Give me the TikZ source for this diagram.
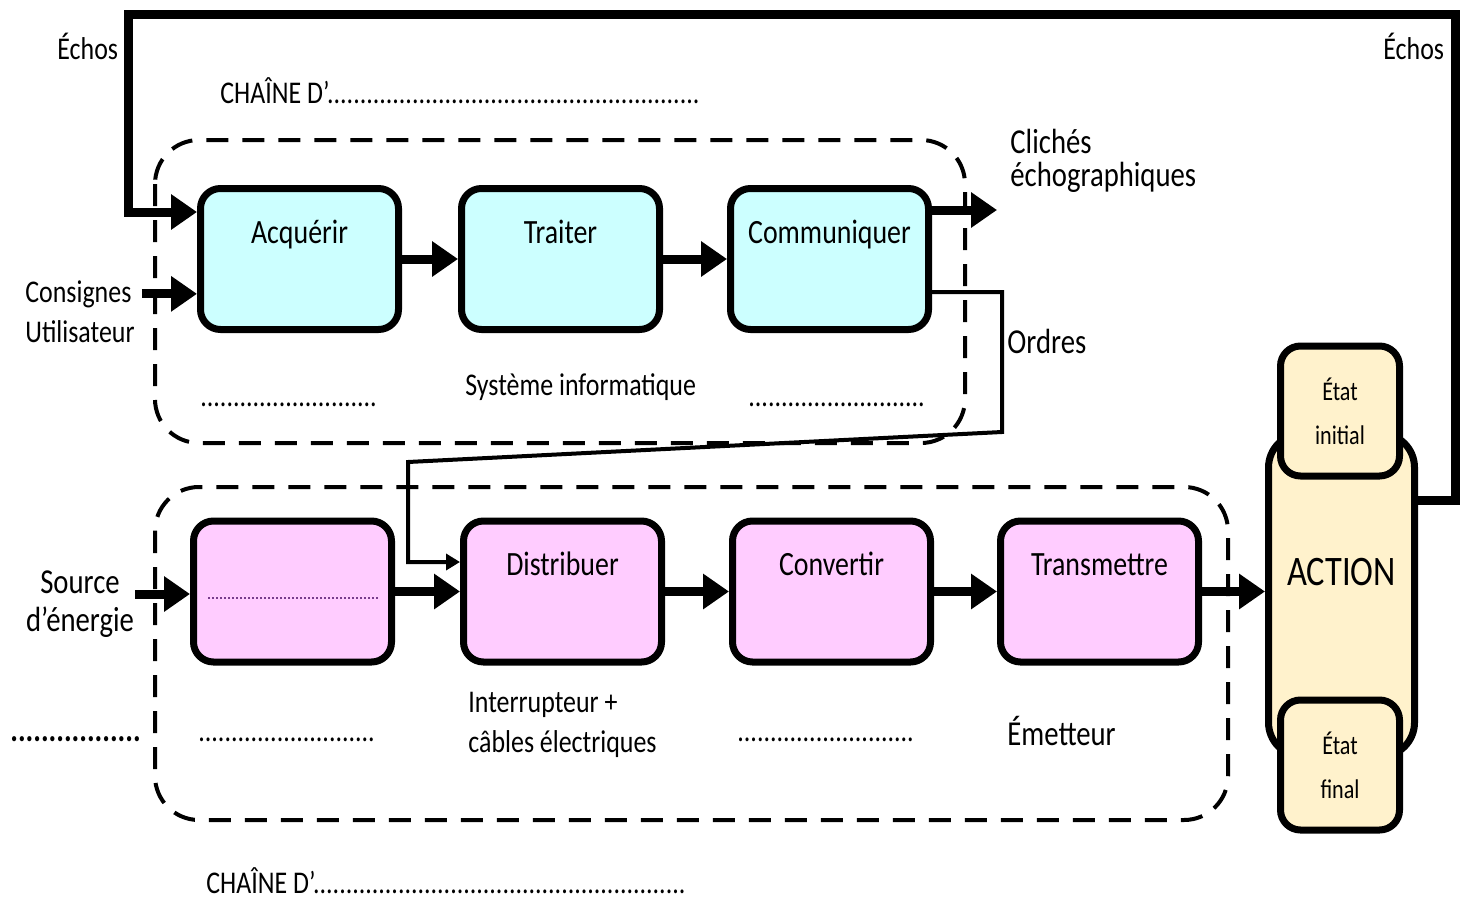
\documentclass[tikz,border=0pt]{standalone}
\usepackage{fontspec}
\setmainfont{Carlito}[FakeStretch=0.82]
\usepackage{tikz}
\usetikzlibrary{positioning,arrows.meta}
\definecolor{cyanfill}{RGB}{204,255,255}
\definecolor{pinkfill}{RGB}{255,204,255}
\definecolor{beigefill}{RGB}{255,242,204}
\definecolor{dotviolet}{RGB}{120,60,140}
\newcommand{\pointilles}[1]{\foreach\k in {1,...,#1}{.}}
\tikzset{
  blockbox/.style={draw, line width=3.5pt, rounded corners=10pt, minimum width=99pt,
                   minimum height=70.5pt, text height=13pt, text depth=29pt,
                   font=\fontsize{17}{20}\selectfont},
  infobox/.style={blockbox, fill=cyanfill},
  energybox/.style={blockbox, fill=pinkfill},
  etatbox/.style={draw, line width=3.5pt, rounded corners=10pt, fill=beigefill,
                  minimum width=59.5pt, minimum height=65pt, align=center,
                  font=\fontsize{13.5}{22}\selectfont},
  chain/.style={draw, dash pattern=on 11pt off 7pt, line width=2pt, rounded corners=22pt},
  lbl/.style={font=\fontsize{15.8}{20}\selectfont, inner sep=0pt},
  biglbl/.style={font=\fontsize{17.5}{19}\selectfont, inner sep=0pt},
  bigarrow/.style={-{Triangle[length=13pt,width=17pt]}, line width=4.5pt, line join=miter},
  thinarrow/.style={-{Triangle[length=7pt,width=8pt]}, line width=2pt, line join=miter},
}

\begin{document}
\begin{tikzpicture}[x=0.5pt, y=-0.5pt]
  \useasboundingbox (0,0) rectangle (1465,899);

  % Containers
  \draw[chain] (155,140) rectangle (965,443);
  \draw[chain] (155,487) rectangle (1228,820);

  % Chaine d'information
  \node[infobox] (acq) at (299.5,259) {Acquérir};
  \node[infobox, right=28pt of acq] (traiter) {Traiter};
  \node[infobox, right=32pt of traiter] (comm) {Communiquer};

  \node[lbl, anchor=base west] (chaineinfo) at (220,104) {CHAÎNE D’\pointilles{57}};
  \node[lbl, anchor=base west] (sysinfo) at (465,395) {Système informatique};
  \node[lbl, anchor=base west] (dotsA) at (200,406) {\pointilles{27}};
  \node[lbl, anchor=base west] (dotsB) at (748,406) {\pointilles{27}};

  % Chaine d'energie
  \node[energybox] (alim) at (292.5,591.5) {};
  \node[energybox, right=32.5pt of alim] (dist) {Distribuer};
  \node[energybox, right=32pt of dist] (conv) {Convertir};
  \node[energybox, right=31.5pt of conv] (trans) {Transmettre};
  \draw[dotviolet, line width=0.8pt, dash pattern=on 1pt off 1pt] (208,598) -- (378,598);

  \node[lbl, anchor=base west] (chaineener) at (206,893) {CHAÎNE D’\pointilles{57}};
  \node[biglbl, font=\fontsize{17.5}{19}\bfseries, anchor=base west] (dotsC) at (10,741) {\pointilles{17}};
  \node[lbl, anchor=base west] (dotsD) at (198,741) {\pointilles{27}};
  \node[lbl, align=left, anchor=west] (interr) at (468,725) {Interrupteur +\\câbles électriques};
  \node[lbl, anchor=base west] (dotsE) at (737,741) {\pointilles{27}};
  \node[biglbl, anchor=base west] (emet) at (1007,745) {Émetteur};

  % Action
  \node[draw, line width=3.5pt, rounded corners=17pt, fill=beigefill, minimum width=73pt,
        minimum height=161.5pt, text height=16pt, text depth=26pt,
        font=\fontsize{21}{24}\selectfont] (action) at (1341.5,595) {ACTION};
  \node[etatbox] (etatinit) at (1340,411) {État\\initial};
  \node[etatbox] (etatfinal) at (1340,765) {État\\final};

  % Inputs and outputs
  \node[lbl, anchor=base west] (echosG) at (57,60) {Échos};
  \node[lbl, anchor=base west] (echosD) at (1383,60) {Échos};
  \node[lbl, anchor=base west] (consignes) at (25,302) {Consignes};
  \node[lbl, anchor=base west] (utilisateur) at (25,342) {Utilisateur};
  \node[biglbl, align=left, anchor=west] (cliches) at (1010,161) {Clichés\\[-2.5pt]échographiques};
  \node[biglbl, anchor=base west] (ordres) at (1007,353) {Ordres};
  \node[biglbl, align=center] (source) at (80,604) {Source\\d’énergie};
  \coordinate (sortie) at (997,210);
  \coordinate (srcin) at (135,594);

  \draw[bigarrow] (acq) -- (traiter);
  \draw[bigarrow] (traiter) -- (comm);
  \draw[bigarrow] ([yshift=24.5pt]comm.east) -- (sortie);
  \draw[bigarrow] ([xshift=5pt]consignes.east) -- (consignes.east -| acq.west);
  \draw[bigarrow] ([yshift=47.5pt]action.east) -| (1455,15) -| (128,212) -- (acq.west |- 0,212);
  \draw[thinarrow] ([yshift=-16.5pt]comm.east) -| (1002,432) -- (408,462) |- ([yshift=14.75pt]dist.west);

  \draw[bigarrow] (srcin) -- (srcin -| alim.west);
  \draw[bigarrow] (alim) -- (dist);
  \draw[bigarrow] (dist) -- (conv);
  \draw[bigarrow] (conv) -- (trans);
  \draw[bigarrow] (trans) -- (trans -| action.west);
\end{tikzpicture}
\end{document}
